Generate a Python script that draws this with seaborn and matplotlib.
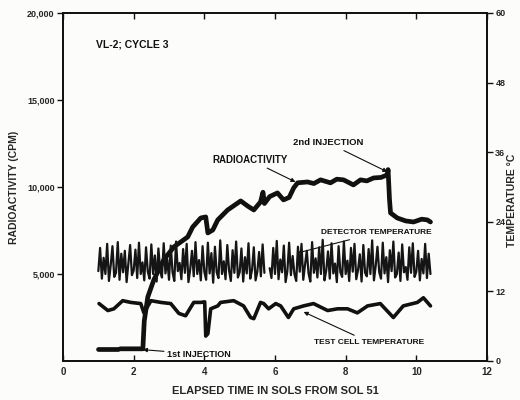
import numpy as np
import pandas as pd
import matplotlib
matplotlib.use('Agg')
import matplotlib.pyplot as plt
import seaborn as sns

sns.set_style('ticks')
plt.rcParams['font.family'] = ['Liberation Sans', 'DejaVu Sans']

# radioactivity (cpm), first dash of the baseline then the main trace
rad_dash_sol = [1.00, 1.55]
rad_dash_cpm = [700, 700]
rad_sol = [1.62, 2.26, 2.30, 2.40, 2.57, 2.85, 3.14, 3.53, 3.67, 3.90,
           4.04, 4.10, 4.24, 4.38, 4.66, 5.03, 5.23, 5.40, 5.59, 5.66,
           5.70, 5.85, 6.07, 6.24, 6.40, 6.53, 6.64, 6.92, 7.10, 7.29,
           7.57, 7.75, 7.94, 8.22, 8.42, 8.60, 8.79, 9.00, 9.18, 9.20,
           9.21, 9.24, 9.27, 9.46, 9.70, 9.92, 10.15, 10.31, 10.40]
rad_cpm = [700, 700, 2300, 3680, 4660, 5810, 6560, 7130, 7700, 8220,
           8280, 7360, 7530, 8110, 8680, 9200, 8900, 8680, 9140, 9700,
           9050, 9450, 9660, 9260, 9400, 9950, 10240, 10290, 10200, 10410,
           10240, 10450, 10410, 10120, 10410, 10350, 10520, 10550, 10700, 11000,
           10580, 9300, 8510, 8220, 8050, 7990, 8150, 8110, 7990]

# test cell temperature (deg C)
cell_sol = [1.02, 1.27, 1.44, 1.69, 1.92, 2.20, 2.29, 2.49, 2.77, 3.05,
            3.28, 3.47, 3.70, 3.90, 4.01, 4.04, 4.10, 4.18, 4.38, 4.46,
            4.83, 5.11, 5.31, 5.40, 5.59, 5.68, 5.82, 6.02, 6.16, 6.38,
            6.53, 6.81, 7.09, 7.49, 7.77, 8.05, 8.33, 8.62, 8.98, 9.35,
            9.63, 10.03, 10.20, 10.40]
cell_temp = [9.9, 8.7, 9.0, 10.4, 10.1, 9.9, 8.3, 10.4, 10.1, 9.9,
             8.2, 7.8, 10.1, 10.1, 10.2, 4.3, 4.7, 9.0, 9.5, 10.1,
             10.4, 9.5, 7.5, 7.3, 10.1, 9.9, 9.0, 9.9, 9.5, 7.5,
             9.0, 9.5, 9.9, 8.7, 9.0, 9.0, 8.3, 9.5, 9.9, 7.5,
             9.5, 10.1, 10.9, 9.5]

# detector temperature (deg C), sampled every 0.05 sol from 1.0 to 10.4
det_temp = [
    15.5, 19.5, 14.2, 17.8, 15.0, 20.2, 13.8, 16.5, 19.8, 14.5, 15.2, 20.5, 14.0, 18.5, 15.3, 19.0, 13.6, 16.8, 20.0, 14.8,
    15.6, 19.2, 14.3, 20.4, 15.0, 17.0, 13.9, 19.6, 15.4, 14.2, 20.1, 15.0, 18.2, 13.7, 19.4, 15.6, 14.4, 20.3, 15.1, 17.6,
    14.0, 19.9, 15.3, 13.8, 20.6, 15.5, 16.9, 14.1, 19.3, 15.2, 20.2, 13.6, 15.8, 19.0, 14.6, 20.5, 15.0, 17.4, 13.9, 19.8,
    15.4, 14.0, 20.4, 15.1, 18.6, 13.5, 19.7, 15.3, 14.3, 20.8, 15.0, 17.2, 14.1, 20.0, 15.6, 13.8, 19.1, 15.2, 20.6, 14.4,
    15.3, 19.4, 13.7, 17.9, 15.1, 20.3, 14.2, 15.7, 19.6, 13.9, 15.4, 18.8, 14.6, 20.1, 15.2, np.nan, np.nan, 16.0, 14.3, 19.5,
    15.0, 20.7, 14.1, 17.5, 15.3, 19.9, 13.6, 15.5, 20.4, 14.8, 18.1, 15.0, 13.8, 19.7, 15.4, 20.2, 14.0, 16.6, 19.0, 15.1,
    13.7, 20.5, 15.2, 17.7, 14.4, 19.6, 15.0, 20.9, 13.9, 15.6, 18.9, 14.2, 20.3, 15.1, 16.8, 13.6, 19.8, 15.3, 14.5, 20.6,
    15.0, 17.3, 13.8, 19.5, 15.4, 20.2, 14.1, 15.7, 18.4, 13.7, 20.0, 15.2, 14.6, 19.3, 15.0, 20.8, 13.9, 16.4, 19.7, 15.3,
    14.2, 20.4, 15.1, 17.9, 13.6, 19.1, 15.5, 20.6, 14.4, 15.0, 18.7, 13.8, 20.1, 15.3, 16.2, 14.0, 19.6, 15.2, 20.3, 14.5,
    15.4, 19.0, 13.9, 17.6, 15.1, 20.2, 14.3, 18.5, 15.0]
det_sol = np.linspace(1.0, 10.4, len(det_temp))

x_ticks = [0, 2, 4, 6, 8, 10, 12]
cpm_ticks = [5000, 10000, 15000, 20000]
cpm_labels = ['5,000', '10,000', '15,000', '20,000']
temp_ticks = [0, 12, 24, 36, 48, 60]

fig = plt.figure(figsize=(5.2, 4), dpi=100)
fig.patch.set_facecolor('#fcfcfa')
ax = fig.add_axes([63 / 520, 39 / 400, 424 / 520, 348 / 400])
ax.set_facecolor('#fcfcfa')
ax2 = ax.twinx()

ink = '#111111'
sns.lineplot(x=rad_dash_sol, y=rad_dash_cpm, ax=ax, color=ink, lw=3.4, sort=False)
sns.lineplot(x=rad_sol, y=rad_cpm, ax=ax, color=ink, lw=3.4, sort=False)

det = pd.DataFrame({'sol': det_sol, 'temp': det_temp})
det['seg'] = det['temp'].isna().cumsum()
det = det.dropna()
sns.lineplot(data=det, x='sol', y='temp', units='seg', estimator=None, ax=ax2,
             color='#151515', lw=1.6, sort=False)
sns.lineplot(x=cell_sol, y=cell_temp, ax=ax2, color=ink, lw=2.6, sort=False)

ax.set_xlim(0, 12)
ax.set_ylim(0, 20000)
ax2.set_ylim(0, 60)

ax.set_xticks(x_ticks)
ax.set_xticklabels([str(t) for t in x_ticks], fontsize=7, fontweight='bold')
ax.set_yticks(cpm_ticks)
ax.set_yticklabels(cpm_labels, fontsize=6.5, fontweight='bold')
ax2.set_yticks(temp_ticks)
ax2.set_yticklabels([str(t) for t in temp_ticks], fontsize=6.5, fontweight='bold')

ax.tick_params(axis='x', direction='in', length=4, width=1, top=True, pad=4, color=ink)
ax.tick_params(axis='y', direction='out', length=4, width=1, pad=2, color=ink)
ax2.tick_params(axis='y', direction='out', length=4, width=1, pad=2, color=ink)
for a in (ax, ax2):
    for s in a.spines.values():
        s.set_linewidth(1.3)
        s.set_color(ink)
        s.set_visible(True)

ax.set_xlabel('ELAPSED TIME IN SOLS FROM SOL 51', fontsize=8, fontweight='bold', labelpad=7)
ax.set_ylabel('RADIOACTIVITY (CPM)', fontsize=7.5, fontweight='bold', labelpad=6)
ax2.set_ylabel('')
fig.text(0.985, 0.5, 'TEMPERATURE °C', rotation=90, fontsize=7.5, fontweight='bold',
         ha='center', va='center')

tkw = dict(fontsize=6, fontweight='bold', color=ink)
akw = dict(arrowstyle='-|>', lw=0.8, color=ink, mutation_scale=6, shrinkA=0, shrinkB=0)
ax.text(0.93, 18200, 'VL-2; CYCLE 3', fontsize=7.5, fontweight='bold', color=ink, ha='left', va='center')
ax.annotate('RADIOACTIVITY', xy=(6.58, 10290), xytext=(5.3, 11560), ha='center', va='center',
            arrowprops=akw, fontsize=7, fontweight='bold', color=ink)
ax.annotate('2nd INJECTION', xy=(9.18, 10870), xytext=(7.5, 12540), ha='center', va='center',
            arrowprops=akw, fontsize=6.8, fontweight='bold', color=ink)
ax.annotate('DETECTOR TEMPERATURE', xy=(6.64, 6210), xytext=(7.3, 7360), ha='left', va='center',
            arrowprops=akw, **tkw)
ax.annotate('TEST CELL TEMPERATURE', xy=(6.81, 2820), xytext=(7.1, 1090), ha='left', va='center',
            arrowprops=akw, **tkw)
ax.annotate('1st INJECTION', xy=(2.26, 650), xytext=(2.95, 400), ha='left', va='center',
            arrowprops=akw, fontsize=6.5, fontweight='bold', color=ink)

fig.savefig('out.png', dpi=100, facecolor=fig.get_facecolor())
